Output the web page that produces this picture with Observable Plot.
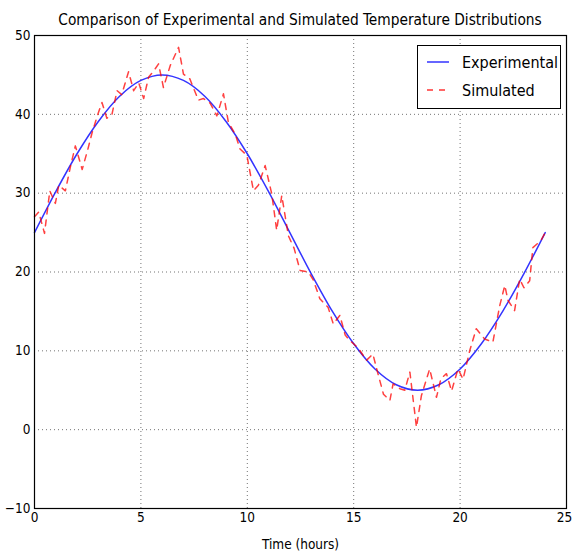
<!DOCTYPE html>
<html>
<head>
<meta charset="utf-8">
<script src="https://cdn.jsdelivr.net/npm/d3@7"></script>
<script src="https://cdn.jsdelivr.net/npm/@observablehq/plot@0.6"></script>
<style>
  body { margin: 0; background: #fff; overflow: hidden; }
  #wrap { position: relative; width: 573px; height: 555px; font-family: "DejaVu Sans Condensed", "Liberation Sans Narrow", "DejaVu Sans", sans-serif; }
  #chart svg { overflow: visible; }
  #title { position: absolute; left: 34px; width: 532px; top: 11px; text-align: center; font-size: 15.3px; color: #000; white-space: nowrap; }
  #legend { position: absolute; left: 417px; top: 45px; width: 142px; height: 62px; border: 1px solid #000; background: #fff; font-size: 16px; }
  .item { position: absolute; left: 9px; display: flex; align-items: center; }
  .item svg { margin-right: 13px; }
</style>
</head>
<body>
<div id="wrap">
  <div id="chart"></div>
  <div id="title">Comparison of Experimental and Simulated Temperature Distributions</div>
  <div id="legend"></div>
</div>
<script>
// Experimental series (hours, °C)
const expTime = [0,1,2,3,4,5,6,7,8,9,10,11,12,13,14,15,16,17,18,19,20,21,22,23,24];
const expTemp = [25,30.2,35,39.1,42.3,44.3,45,44.3,42.3,39.1,35,30.2,25,19.8,15,10.9,7.7,5.7,5,5.7,7.7,10.9,15,19.8,25];

// Simulated series (hours, °C)
const simTime = [0,0.2,0.47,0.72,0.98,1.14,1.45,1.7,1.92,2.24,2.5,2.7,2.95,3.17,3.4,3.64,3.88,4.1,4.42,4.66,4.9,5.13,5.36,5.6,5.83,6.06,6.38,6.77,7.0,7.3,7.7,7.94,8.26,8.57,8.88,9.11,9.43,9.66,9.98,10.29,10.52,10.84,11.15,11.38,11.62,11.93,12.2,12.48,12.87,13.1,13.41,13.8,14.04,14.35,14.6,14.82,15.2,15.6,15.9,16.15,16.4,16.7,16.85,17.17,17.4,17.64,17.95,18.18,18.57,18.89,19.1,19.36,19.6,19.9,20.14,20.45,20.76,21.15,21.54,21.86,22.1,22.25,22.56,22.8,23.0,23.27,23.42,23.8,24.0];
const simTemp = [27.0,27.6,24.9,30.3,28.7,31.0,30.3,33.5,36.0,33.0,35.5,37.6,39.8,41.5,39.5,40.0,43.0,42.5,45.4,43.0,44.0,42.0,44.7,45.5,46.4,43.4,46.2,48.5,45.1,44.5,41.8,42.0,41.4,39.8,42.6,39.0,37.5,35.6,34.8,30.3,31.0,33.5,29.9,25.3,29.7,24.6,23.0,20.2,20.0,19.0,16.6,15.5,13.4,14.5,12.0,11.3,10.4,8.8,9.6,7.0,4.5,3.7,5.8,5.2,5.0,7.3,0.3,4.3,7.7,4.1,6.5,7.1,4.9,7.7,6.4,10.0,12.8,11.5,11.1,15.7,18.3,16.4,15.1,19.1,18.0,18.9,23.1,24.0,25.0];

const xTicks = [0,5,10,15,20,25];
const yTicks = [-10,0,10,20,30,40,50];
const seriesNames = ["Experimental", "Simulated"];
const seriesColors = ["#0000ff", "#ff0000"];

const expData = expTime.map((t, i) => ({t, v: expTemp[i]}));
const simData = simTime.map((t, i) => ({t, v: simTemp[i]}));
const font = '"DejaVu Sans Condensed", "Liberation Sans Narrow", "DejaVu Sans", sans-serif';

const chart = Plot.plot({
  width: 573,
  height: 555,
  marginLeft: 34,
  marginRight: 7,
  marginTop: 35,
  marginBottom: 47,
  x: {domain: [0, 25]},
  y: {domain: [-10, 50]},
  style: {fontFamily: font, fontSize: "13.5px", background: "white", color: "#000", overflow: "visible"},
  marks: [
    Plot.gridX(xTicks, {stroke: "#000", strokeOpacity: 0.55, strokeDasharray: "1,3"}),
    Plot.gridY(yTicks, {stroke: "#000", strokeOpacity: 0.55, strokeDasharray: "1,3"}),
    Plot.line(expData, {x: "t", y: "v", stroke: seriesColors[0], strokeOpacity: 0.8, strokeWidth: 1.5, curve: "catmull-rom"}),
    Plot.line(simData, {x: "t", y: "v", stroke: seriesColors[1], strokeOpacity: 0.75, strokeWidth: 1.5, strokeDasharray: "6,6"}),
    Plot.frame({stroke: "#000", strokeWidth: 1.2}),
    Plot.axisX(xTicks.slice(0, -1), {tickSize: 0, tickPadding: 4, label: "Time (hours)", labelAnchor: "center", labelArrow: "none", labelOffset: 40}),
    Plot.axisX(xTicks.slice(-1), {tickSize: 0, tickPadding: 4, label: null, dx: -2}),
    Plot.axisY({ticks: yTicks, tickSize: 0, tickPadding: 4, label: null, tickFormat: d => d < 0 ? "\u2212" + Math.abs(d) : String(d)})
  ]
});
document.getElementById("chart").appendChild(chart);

const legend = document.getElementById("legend");
seriesNames.forEach((name, i) => {
  const item = document.createElement("div");
  item.className = "item";
  item.style.top = (i === 0 ? 6 : 34) + "px";
  const dash = i === 1 ? ' stroke-dasharray="6,6"' : '';
  item.innerHTML = `<svg width="22" height="20"><line x1="0" x2="22" y1="10" y2="10" stroke="${seriesColors[i]}" stroke-opacity="0.8" stroke-width="1.5"${dash}/></svg><span>${name}</span>`;
  legend.appendChild(item);
});
</script>
</body>
</html>
